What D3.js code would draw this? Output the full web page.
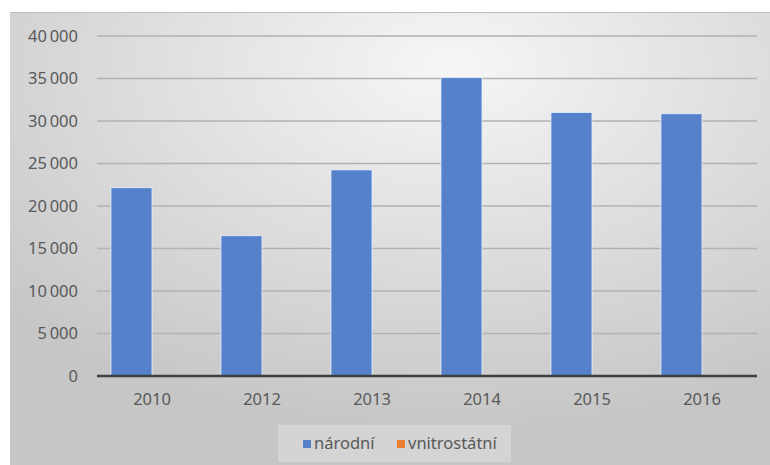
<!doctype html>
<head>
  <meta charset="utf-8">
  <script src="https://cdn.jsdelivr.net/npm/d3@7"></script>
</head>

<style type="text/css">
  body { margin: 0; background: #fff; }
  .lbl { font-family: 'Noto Sans', 'Open Sans', sans-serif; font-size: 16.5px; fill: #595959; }
</style>

<body>
<svg></svg>
<script>
// data
var years = ["2010", "2012", "2013", "2014", "2015", "2016"];
var narodni = [22150, 16500, 24250, 35100, 31000, 30850];
var vnitrostatni = [0, 0, 0, 0, 0, 0];
var seriesNames = ["národní", "vnitrostátní"];
var seriesColors = ["#5580ca", "#ed7d31"];
var yTicks = [0, 5000, 10000, 15000, 20000, 25000, 30000, 35000, 40000];

var W = 770, H = 465;
var svg = d3.select("svg").attr("width", W).attr("height", H);
var defs = svg.append("defs");

var grad = defs.append("radialGradient").attr("id", "bg")
  .attr("cx", "58%").attr("cy", "12%").attr("r", "80%");
grad.append("stop").attr("offset", "0%").attr("stop-color", "#f6f6f6");
grad.append("stop").attr("offset", "100%").attr("stop-color", "#c6c6c6");

// chart background
svg.append("rect")
  .attr("x", 10).attr("y", 12).attr("width", W - 10).attr("height", H - 12)
  .style("fill", "url(#bg)");
svg.append("line")
  .attr("x1", 10).attr("x2", W).attr("y1", 12.5).attr("y2", 12.5)
  .style("stroke", "#bdbdbd").style("stroke-width", 1);

// plot box
var pLeft = 97, pRight = 757, pTop = 36, pBottom = 376;

var x = d3.scaleBand().domain(years).range([pLeft, pRight]);
var inner = d3.scaleBand().domain(seriesNames)
  .range([0, x.bandwidth()]).paddingInner(0).paddingOuter(0.34);
var y = d3.scaleLinear().domain([0, 40000]).range([pBottom, pTop]);

var fmt = d3.formatLocale({decimal: ",", thousands: "\u2009", grouping: [3], currency: ["", ""]}).format(",d");

// gridlines
svg.append("g").selectAll("line")
  .data(yTicks.filter(function(d){ return d > 0; }))
  .join("line")
  .attr("x1", pLeft).attr("x2", pRight)
  .attr("y1", function(d){ return y(d); })
  .attr("y2", function(d){ return y(d); })
  .style("stroke", "#b2b2b2").style("stroke-width", 1.4);

// y labels
var yAxis = svg.append("g").attr("transform", "translate(" + [pLeft, 0] + ")")
  .call(d3.axisLeft(y).tickValues(yTicks).tickFormat(fmt).tickSize(0).tickPadding(19));
yAxis.select(".domain").remove();
yAxis.selectAll("text").attr("class", "lbl");

// bars
var series = [narodni, vnitrostatni];
series.forEach(function(vals, si){
  svg.append("g").selectAll("rect")
    .data(vals)
    .join("rect")
    .attr("x", function(d, i){ return x(years[i]) + inner(seriesNames[si]); })
    .attr("width", inner.bandwidth())
    .attr("y", function(d){ return y(d); })
    .attr("height", function(d){ return y(0) - y(d); })
    .style("fill", seriesColors[si])
    .style("stroke", "#e8f0ff").style("stroke-width", 0.8);
});

// x axis
var xAxis = svg.append("g").attr("transform", "translate(" + [0, pBottom] + ")")
  .call(d3.axisBottom(x).tickSize(0).tickPadding(17));
xAxis.select(".domain").remove();
xAxis.selectAll("text").attr("class", "lbl");
svg.append("line")
  .attr("x1", pLeft).attr("x2", pRight).attr("y1", pBottom).attr("y2", pBottom)
  .style("stroke", "#3f3f3f").style("stroke-width", 2.5);

// legend
var lg = svg.append("g");
lg.append("rect")
  .attr("x", 278).attr("y", 425).attr("width", 233).attr("height", 37)
  .style("fill", "#ffffff").style("fill-opacity", 0.25);
var lx = [303, 397];
seriesNames.forEach(function(n, i){
  lg.append("rect")
    .attr("x", lx[i]).attr("y", 440).attr("width", 8).attr("height", 8)
    .style("fill", seriesColors[i]);
  lg.append("text").attr("class", "lbl")
    .attr("x", lx[i] + 11).attr("y", 449)
    .text(n);
});
</script>
</body>
